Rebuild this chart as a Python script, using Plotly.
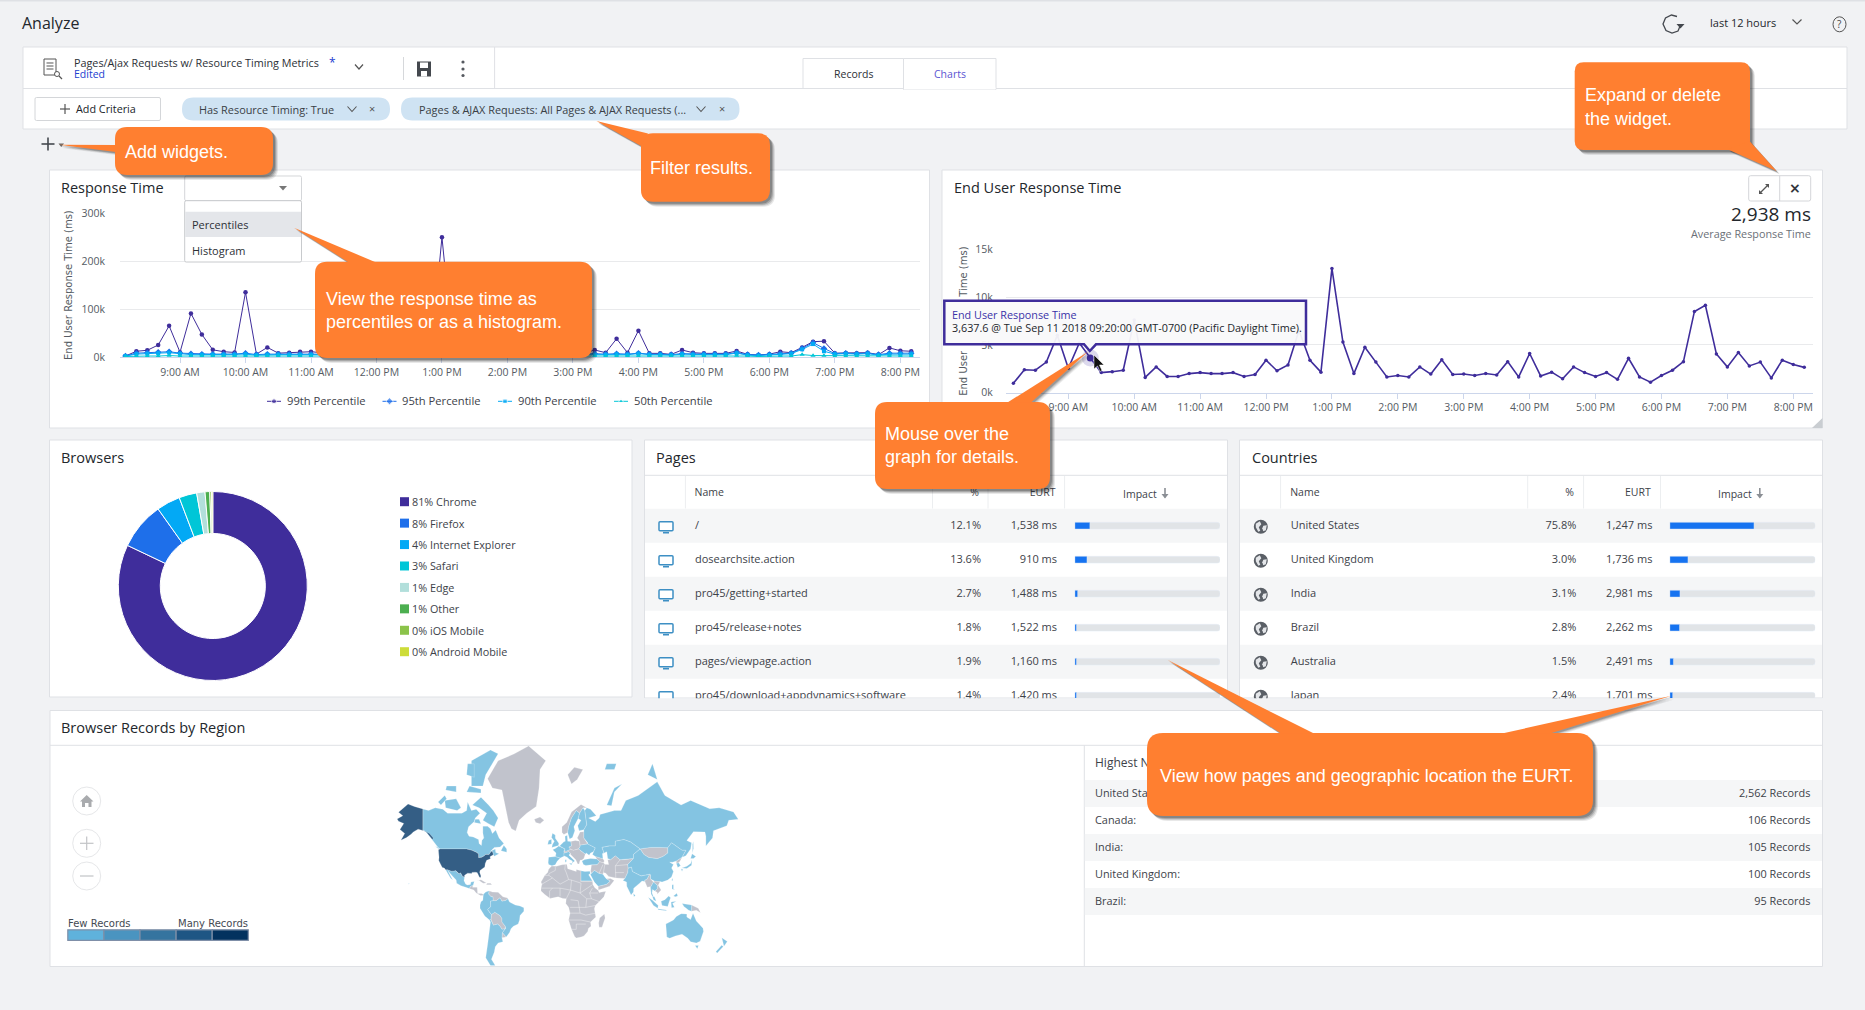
import math
import numpy as np
import pandas as pd
import plotly.graph_objects as go

W, H = 1865, 1010

# ------------------------------------------------------------------ data
TIMES = [t.strftime("%Y-%m-%d %H:%M:%S") for t in pd.date_range("2018-09-11 08:10", "2018-09-11 20:10", freq="10min")]
P99 = [2,12,14,25,65,10,91,47,15,11,9.5,135,6,20,8,9,11,11,
       9,8,10,8,9,14,9,10,18,12,9,250,20,9,16,11,8,8,7,10,8,12,8,8,8,
       14.6,9,38,9,55,7.6,7.6,5.5,14.6,9,7.6,7.6,7.6,12.5,5.5,4,6,11,9,20,32,33,8,8.5,8,9,5,19,13,12]
P95 = [2,8,9,10,11,8,7,6,6,6,6,8,5,6,6,6,6,6,
       6,5,6,5,6,8,6,6,9,7,6,15,7,6,7,6,6,5,6,6,6,7,6,6,6,
       7,6,7,6,8,6,6,5,7,6,6,6,6,9,5,4,5,7,8,18,30,18,7,8,7,8,5,8,8,8]
P90 = [2,6,7,8,9,7,5,5,5,5,5,6,4,5,5,5,5,5,
       5,4,5,4,5,6,5,5,7,5,5,10,6,5,6,5,5,4,5,5,5,6,5,5,5,
       5,5,6,5,7,5,5,4,6,5,5,5,5,8,4,3,4,5,7,16,27,12,6,7,6,7,4,6,6,6]
P50 = [1,2,2,2,3,2,2,2,2,2,2,2,2,2,2,2,2,2,
       2,2,2,2,2,2,2,2,2,2,2,3,2,2,2,2,2,2,2,2,2,2,2,2,2,
       2,2,2,2,2,2,2,2,2,2,2,2,2,3,2,1,2,2,2,5,3,3,2,2,2,2,2,2,2,2]
PCT_NAMES = ["99th Percentile", "95th Percentile", "90th Percentile", "50th Percentile"]
EURT = [0.98,2.4,2.35,3.2,6.0,2.55,5.2,3.6376,2.1,2.2,2.35,7.6,1.6,2.7,1.7,1.7,2.0,2.1,2.0,2.0,
        2.1,1.7,1.9,3.4,2.3,2.9,6.5,3.4,2.15,13.0,5.3,2.0,4.75,3.2,1.65,1.8,1.65,2.7,1.95,3.45,
        1.9,1.95,1.8,2.0,1.85,3.25,1.65,4.1,1.75,2.15,1.45,2.7,2.1,1.7,2.1,1.4,3.6,1.65,1.1,1.8,
        2.35,3.25,8.5,9.15,4.05,2.7,4.2,2.8,3.2,1.55,3.4,2.95,2.65]

BROWSERS = ["Chrome", "Firefox", "Internet Explorer", "Safari", "Edge", "Other", "iOS Mobile", "Android Mobile"]
BROWSER_SHARE = [81, 8, 4, 3, 1.4, 0.8, 0.3, 0.2]
BROWSER_LABEL = ["81%", "8%", "4%", "3%", "1%", "1%", "0%", "0%"]

PAGE_NAMES = ["/", "dosearchsite.action", "pro45/getting+started", "pro45/release+notes", "pages/viewpage.action", "pro45/download+appdynamics+software"]
PAGE_PCT = ["12.1%", "13.6%", "2.7%", "1.8%", "1.9%", "1.4%"]
PAGE_EURT = ["1,538 ms", "910 ms", "1,488 ms", "1,522 ms", "1,160 ms", "1,420 ms"]
PAGE_IMPACT = [10.4, 8.4, 2.0, 1.2, 1.2, 1.2]
COUNTRY_NAMES = ["United States", "United Kingdom", "India", "Brazil", "Australia", "Japan"]
COUNTRY_PCT = ["75.8%", "3.0%", "3.1%", "2.8%", "1.5%", "2.4%"]
COUNTRY_EURT = ["1,247 ms", "1,736 ms", "2,981 ms", "2,262 ms", "2,491 ms", "1,701 ms"]
COUNTRY_IMPACT = [57.9, 12.5, 7.0, 6.7, 2.5, 2.0]
REGION_NAMES = ["United States:", "Canada:", "India:", "United Kingdom:", "Brazil:"]
REGION_RECORDS = ["2,562 Records", "106 Records", "105 Records", "100 Records", "95 Records"]

MAP_DARK = [
 [(-124.7,48.4),(-123,49),(-95.2,49),(-89.5,48),(-84.5,46.5),(-82.5,45.3),(-82.5,42.6),(-79,43),(-76.5,44),(-75,45),(-71.5,45),(-69.2,47.4),(-67.8,47),(-67,44.8),(-70.5,43.3),(-70,41.7),(-74,40.6),(-75.5,38),(-76,35),(-78,33.9),(-81,32),(-81.3,30),(-80,26.8),(-80.5,25.2),(-81.8,26),(-82.8,28),(-84,30),(-86,30.4),(-89.5,30.2),(-89.5,29.2),(-91,29.3),(-94,29.5),(-97.2,27.6),(-97.2,25.9),(-99.2,26.5),(-101.4,29.8),(-103,29),(-104.7,30),(-106.5,31.8),(-108.2,31.4),(-111,31.3),(-114.8,32.5),(-117.1,32.5),(-118.5,34),(-120.6,34.6),(-122.5,37.5),(-124.3,40.4),(-124,43)],
 [(-141,69.6),(-141,60.3),(-137,59),(-131,55),(-130,55.9),(-134,58.5),(-139,59.8),(-146,60.8),(-151,59.3),(-153,58.2),(-158,56.2),(-164,54.6),(-160,58.5),(-165,60.6),(-161,63.6),(-166.5,64.6),(-168,65.6),(-162,67),(-166.5,68.4),(-156.5,71.3),(-150,70.5)],
]
MAP_BLUE = [
 [(-141,69.6),(-135,69),(-128,70),(-120,69.5),(-115,68),(-108,68),(-100,68),(-95,69),(-94,72),(-90,69),(-85,69.5),(-81,68),(-86,66),(-87,64.5),(-93,62),(-94.5,59),(-92.5,57),(-88,56.5),(-82.5,55),(-82,52.5),(-79.5,51.3),(-79,54.5),(-77,56),(-78,58.7),(-78,62.3),(-73,62.2),(-70,61),(-68,58.5),(-64.5,60.3),(-61,56),(-56,52.5),(-60,50.2),(-66,50),(-70,47.3),(-65,49),(-64.5,46.5),(-61,45.5),(-66,43.7),(-67,44.8),(-67.8,47),(-69.2,47.4),(-71.5,45),(-75,45),(-76.5,44),(-79,43),(-82.5,42.6),(-82.5,45.3),(-84.5,46.5),(-89.5,48),(-95.2,49),(-123,49),(-125,50),(-130,54),(-131,55),(-137,59),(-141,60.3)],
 [(-87,64),(-80,63.5),(-82,65.5),(-86,65.5)],
 [(-62,66),(-66,62),(-72,63.5),(-78,65),(-74,68),(-82,70),(-89,71),(-80,73.5),(-72,71),(-67,69)],
 [(-117,70),(-105,69),(-101,70),(-106,73),(-118,72.5)],
 [(-125,72),(-118,74),(-116,73),(-122,71)],
 [(-90,76.5),(-78,76.5),(-75,79),(-62,82.5),(-70,83),(-90,81.5)],
 [(-95,75),(-80,74.7),(-80,75.7),(-92,76.5)],
 [(-95,79),(-87,78.5),(-87,81),(-94,81)],
 [(-117,75.5),(-106,75),(-106,76.5),(-116,76.5)],
 [(-59,47.7),(-53,46.7),(-53,49),(-56,51.5)],
 [(-128,50.7),(-123.5,48.4),(-125,50)],
 [(-117.1,32.5),(-114.8,32.5),(-111,31.3),(-108.2,31.4),(-106.5,31.8),(-104.7,30),(-103,29),(-101.4,29.8),(-99.2,26.5),(-97.2,25.9),(-97.8,22.3),(-96,19),(-94,18.2),(-91,18.7),(-90.5,21),(-87,21.5),(-88.2,18),(-91,16.8),(-92.2,14.6),(-96,15.8),(-101,17.5),(-105.5,20),(-106,23),(-109.5,26.5),(-112.8,30),(-114.7,31.6),(-112,27),(-109.5,23),(-112,25),(-115,29)],
 [(-77.5,8.7),(-75,11),(-71.5,12.4),(-72,9),(-69.5,6.2),(-67.5,6),(-67.2,2),(-70,1.5),(-69.8,-4.3),(-73,-7.3),(-71,-10),(-69,-12.5),(-69.5,-17.5),(-71,-18),(-76,-14),(-81,-6),(-81,-2.5),(-80,1),(-78,2.5),(-77.5,7)],
 [(-51.7,4),(-50,0.5),(-44,-2.5),(-39,-3.5),(-35,-5.5),(-35,-9),(-39,-13.5),(-39.5,-18),(-41,-22),(-46,-24),(-48.5,-26.5),(-50,-30),(-53.5,-34),(-57.5,-30),(-54,-26),(-54.5,-24),(-58,-20),(-58,-16.5),(-60,-13.5),(-65.5,-10),(-69,-12.5),(-71,-10),(-73,-7.3),(-69.8,-4.3),(-70,1.5),(-67.2,2),(-64,2),(-60,5),(-58,1.5),(-54,2.3)],
 [(-71,-18),(-69.5,-17.5),(-69,-19),(-67,-23),(-62.5,-22),(-60,-24),(-58,-27),(-54.7,-26.5),(-57.5,-30),(-58,-34.5),(-57,-38),(-62,-39),(-65,-42),(-66,-46),(-69,-51),(-65,-55),(-70,-55),(-75,-50),(-73,-40),(-71.5,-30),(-70,-20)],
 [(25,31.6),(29,31),(34.2,31.3),(34.9,29.5),(33,28),(35.6,23.9),(37,22),(25,22)],
 [(-9,43),(-1.8,43.4),(3.2,42.3),(0,39.7),(-2,36.8),(-5.5,36),(-9,37),(-9.5,38.8)],
 [(-1.8,43.4),(3.2,42.3),(7.5,43.8),(7,47.5),(8.2,49),(4,50.5),(1.6,50.9),(-1.5,49.5),(-4.7,48.4),(-1.2,46)],
 [(-5.7,50),(1.4,51.2),(1.7,52.8),(-2,55.8),(-2,57.6),(-5,58.6),(-6,56.3),(-3,54),(-5,52)],
 [(-10,52),(-6,52.2),(-6,55.2),(-9,54.5)],
 [(2.5,51),(4,52),(7,53.6),(8.5,54),(8.2,57),(10.5,57.5),(11,54),(14.2,53.9),(15,51),(12.2,50.3),(13.8,48.7),(10,47.5),(7.5,47.6),(8.2,49),(4,50.5)],
 [(7,44),(7,45.9),(12,47),(13.7,46),(12.3,44.5),(16,41.8),(18.5,40),(16.6,38.9),(15.7,38),(16,40),(13,41.2),(10.5,43)],
 [(12.5,38),(15.5,38.2),(15,36.7)],
 [(8.3,41),(9.7,41),(9.5,39.1),(8.5,39)],
 [(24,50.5),(24,51.5),(32,52.3),(40,49.7),(38,47),(35,46),(33.5,44.5),(30.5,46),(29.5,45.3),(24,48),(22.5,49)],
 [(11,59),(13,55.4),(16,56.2),(18.5,60),(17.5,62),(22,65.8),(23.5,68),(20,69),(15,66),(12,62)],
 [(23,60),(28,60.5),(31,63),(29,69),(27,70),(23.5,68),(22,65.8),(25,65),(21.5,62.5)],
 [(52,71),(57,70.7),(60,75),(68,77),(60,76)],
 [(95,79),(105,78),(100,81)],
 [(50,80),(60,80),(62,81),(52,81)],
 [(28,59.5),(28,56),(32,53),(32,52.3),(40,49.7),(38,47),(37,45),(40,43.5),(48,41.8),(47.5,45.5),(49,46.5),(47,50),(55,51),(61,51),(61,54),(70,55),(77,53.5),(87,49),(98,50),(107,50),(114,50),(116,49.8),(120,53),(127,50),(131,48),(135,48),(131,43),(135,44),(140,49),(141,53),(136,54.5),(143,59.5),(155,59.3),(156,57),(156,51),(163,56),(164,60),(178,62.5),(180,65),(190,65.5),(185,68.5),(170,70),(160,69.7),(140,72.5),(130,71),(113,74),(105,77.5),(85,74),(72,72.5),(67,69),(60,69),(45,67.5),(44,66),(40,64.5),(33,66),(41,67),(35,69.5),(31,70),(29,69),(31,63),(28,60.5)],
 [(47.5,45.5),(49,46.5),(47,50),(55,51),(61,51),(61,54),(70,55),(77,53.5),(87,49),(80,45),(80,42),(70,41),(66,41),(61,44),(56,41),(53,42),(52,47)],
 [(34.8,28.2),(36,29.5),(39,32),(44,29.3),(48,28.5),(50,26),(51.5,24.3),(55.5,22),(52,19),(45,17.3),(43,17),(39,21),(36.5,26)],
 [(26,40),(29,41.1),(35,42),(41.5,41.5),(44.5,39.5),(42,37),(36,36.8),(30,36.3),(27.5,37)],
 [(74,30),(74.5,34),(78,35),(79,31),(88,27),(97,28.5),(94,23.5),(91.8,23),(92,21.5),(89,22),(86.5,20),(80.3,15),(80,11),(77.5,8),(73,17),(72.8,21),(69,22.5),(71,24.5)],
 [(74,37),(80,42),(80,45),(87,49),(91,45),(96,42.8),(105,41.8),(111,43.5),(116,46),(116,49.8),(120,53),(127,50),(131,48),(135,48),(131,43),(125,40),(121,39),(118,39),(122,37),(120,34),(122,31),(120,26),(116,23),(110,21),(108,21.5),(102,22),(98,24),(98,28),(97,28.5),(88,27),(79,31),(78,35),(74.5,34)],
 [(125,38),(127.5,38.5),(129.5,36),(126.5,34.5)],
 [(130.8,34),(136,35.6),(140,38),(141.5,41),(141,36.5),(136,33.7)],
 [(140,42),(141.5,45.5),(145.5,43.5),(143,42)],
 [(130,33.5),(131.8,33),(131,31)],
 [(142,46),(143,49.5),(142.8,54),(142,52)],
 [(98,16),(101,21),(105,18),(105,14.5),(102.5,12),(100,13.5),(99.5,10),(101,6.5),(100,6.5),(98.5,9)],
 [(100,6.5),(102,6.2),(104,1.5),(101,3)],
 [(95.5,5.5),(100,2.5),(106,-3),(105.5,-5.8),(101,-3)],
 [(105.5,-6.5),(114.5,-7.7),(114.5,-8.5),(106,-7.5)],
 [(109,1.5),(113,3),(117,7),(119,5),(117.5,1),(116,-4),(110,-3)],
 [(119.5,0.5),(125,1.5),(121,-1),(123,-5),(120,-5.5)],
 [(120.5,18.5),(122,18.3),(122,14),(124,13),(120.5,14)],
 [(122,7),(125.5,9.7),(126.5,7),(124,6)],
 [(120,23),(121.5,25),(121,22)],
 [(131,-1),(141,-2.6),(141,-9),(138,-8),(133,-4)],
 [(80,9.5),(82,7.5),(80.5,6)],
 [(114,-22),(122,-18),(125,-14.5),(130,-11.5),(136,-12),(136,-15),(140,-17.5),(142.5,-11),(146,-19),(153,-26),(153.5,-29),(150,-37.5),(146,-39),(140,-38),(137,-35),(131,-31.5),(124,-33),(118,-35),(115,-34),(114,-27)],
 [(144.7,-41),(148.3,-41),(147,-43.5)],
 [(172.7,-34.5),(178.5,-37.7),(175,-41.5),(174,-39)],
 [(172.5,-40.7),(174.3,-41.7),(168,-46.7),(166.5,-45.8)],
 [(-156,20),(-155,19.5),(-155.8,19)],
]
MAP_GRAY = [
 [(-73,78.2),(-68,76),(-58,75.5),(-54,70),(-51,64),(-48,61),(-43.5,59.9),(-40,65),(-32,68),(-22,70.5),(-19,76),(-18,80),(-12,81.5),(-30,83.5),(-45,82.5),(-62,81.5)],
 [(-92.2,14.6),(-91,16.8),(-88.2,18),(-88.9,15.9),(-84,15.8),(-83.3,12),(-83.5,9.5),(-79.5,9.5),(-77.5,8.7),(-78,7.5),(-80.5,7.3),(-85,10),(-87.5,13)],
 [(-85,22),(-80,23.2),(-74.2,20.2),(-77.7,19.9),(-82,22.5)],
 [(-74.4,18.5),(-68.4,18.5),(-70,19.9),(-73.5,19.9)],
 [(-71.5,12.4),(-68,11),(-62,10.7),(-60,8.5),(-57,6),(-52,4.8),(-51.7,4),(-54,2.3),(-58,1.5),(-60,5),(-64,2),(-67.2,2),(-67.5,6),(-69.5,6.2),(-72,9)],
 [(-69,-12.5),(-65.5,-10),(-60,-13.5),(-58,-16.5),(-58,-20),(-54.5,-24),(-54.7,-26.5),(-58,-27),(-60,-24),(-62.5,-22),(-67,-23),(-69,-19),(-69.5,-17.5)],
 [(-57.5,-30),(-53.5,-34),(-58,-34.5)],
 [(-5.9,35.8),(-1,35.5),(5,36.9),(10,37.3),(11,33.5),(15,32.3),(20,31),(20,32.8),(25,31.6),(25,22),(37,22),(37.5,18.5),(39.5,15.5),(43.2,12.5),(44,10.5),(51,11.8),(49,6),(44,1),(40,-3),(39,-6.5),(40.5,-15),(35,-20),(35.5,-24),(32.8,-26),(32,-29),(28,-33),(25,-34),(20,-34.8),(18.3,-33.5),(15,-27),(12,-18),(13.5,-11),(12,-5),(9,-1),(9.5,4),(6,4.3),(1,6),(-4,5),(-7.5,4.4),(-13,8.5),(-17,12),(-17,15),(-16,19),(-17,21),(-13,27.5),(-10,30),(-9,33)],
 [(49.5,-12),(50.3,-16),(47,-25),(44,-25),(43.5,-21),(44.5,-16)],
 [(14.2,53.9),(19,54.5),(23.5,54),(24,50.5),(22.5,49),(17,48),(13.8,48.7),(12.2,50.3),(15,51)],
 [(7.5,47.6),(10,47.5),(13.8,48.7),(17,48),(22.5,49),(24,48),(29.5,45.3),(28,42),(26,40.8),(24,40.5),(23,37.5),(21.5,37.5),(19.5,41),(14,45),(13.7,46),(12,47),(7,45.9)],
 [(23.5,54),(21,56),(24,59.3),(28,59.5),(28,56),(32,53),(32,52.3),(24,51.5)],
 [(5,59),(7,58),(11,59),(12,62),(15,66),(20,69),(23.5,68),(27,70),(31,70),(25,71.2),(15,68.5),(10,64),(5,62)],
 [(-24,65.5),(-18,66.4),(-13.7,65),(-18,63.5),(-22.5,64)],
 [(11,79),(15,77),(21,78),(27,80),(18,80.4)],
 [(36,36.8),(42,37),(44.5,39.5),(48.5,38.5),(50,37.3),(54,37),(53,41),(56,41),(61,44),(66,41),(70,41),(80,42),(74,37),(74.5,34),(74,30),(71,24.5),(61.5,25),(57,26),(54,26.5),(51,29.5),(48.5,30),(48,28.5),(44,29.3),(39,32),(36,29.5),(35,31)],
 [(43,17),(45,17.3),(52,19),(55.5,22),(51.5,24.3),(56,24.5),(59.8,22.5),(55,17),(45,13),(43.2,13)],
 [(40,43.5),(48,41.8),(49.5,40),(48.5,38.5),(44.5,39.5),(41.5,41.5)],
 [(87,49),(98,50),(107,50),(114,50),(116,49.8),(116,46),(111,43.5),(105,41.8),(96,42.8),(91,45)],
 [(125,40),(131,43),(129,40),(127.5,38.5),(125,38)],
 [(92,21.5),(91.8,23),(94,23.5),(97,28.5),(98,28),(98,24),(101,21),(98,16),(98.5,11),(97.5,16.5),(94.5,16)],
 [(101,21),(102,22),(108,21.5),(106,18),(109,13),(107,10.5),(105,8.7),(105,10.5),(102.5,12),(105,14.5),(105,18)],
 [(141,-2.6),(148,-6),(150.5,-10.5),(146,-8),(141,-9)],
]
MAP_BORDERS = [
 [(-8.7,27.5),(-8.7,29),(-2,32),(-2,35)],[(8.5,36.9),(8,33),(9.5,30),(12,23.5),(15,23),(25,20)],
 [(-13,27.5),(-8.7,27.5),(-5,25),(3,19),(12,23.5)],[(-16,19),(-5,25)],[(-17,15),(-5,15),(3,15),(14,13)],
 [(14,13),(15,23)],[(14,13),(24,10),(25,20)],[(24,10),(37,18.5)],[(24,22),(37,22)],[(-8,4.5),(-8,12),(-5,15)],
 [(3,15),(3,6.5)],[(9.5,4),(14,13)],[(24,10),(31,4),(36,4),(44,1)],[(36,4),(34,10),(37,15)],[(34,10),(43,10)],
 [(13.5,-5),(30,-5),(40,-3)],[(13,-11),(24,-11),(30,-13),(40.5,-11)],[(12,-18),(25,-18),(35,-20)],
 [(15,-27),(20,-27),(20,-22),(30,-22)],[(30,-5),(31,4)],[(24,-11),(22,2),(14,3)],[(44,29.3),(48,37)],[(61.5,25),(61,36),(66,41)],
 [(50,37.3),(48.5,30)],[(61,36),(74,37)],[(61,30),(70,30)],
]

# ------------------------------------------------------------------ helpers
BG = "#f1f2f4"; EDGE = "#dfe1e5"; INK = "#333840"; ORANGE = "#ff7f30"; OS = "Open Sans"
PURPLE = "#3f2d9b"; BLUE = "#1e6fea"; SKY = "#03a9f5"; CYAN = "#00c6d7"
fx = lambda x: x / W
fy = lambda y: 1 - y / H
shapes, notes = [], []

def rect(x0, y0, x1, y1, fill=None, line=None, lw=1, layer="below"):
    shapes.append(dict(type="rect", xref="paper", yref="paper", x0=fx(x0), x1=fx(x1), y0=fy(y0), y1=fy(y1),
                       fillcolor=fill or "rgba(0,0,0,0)", line=dict(color=line or "rgba(0,0,0,0)", width=lw if line else 0), layer=layer))

def circle(cx, cy, r, fill=None, line=None, lw=1, layer="below", ry=None):
    ry = ry or r
    shapes.append(dict(type="circle", xref="paper", yref="paper", x0=fx(cx-r), x1=fx(cx+r), y0=fy(cy-ry), y1=fy(cy+ry),
                       fillcolor=fill or "rgba(0,0,0,0)", line=dict(color=line or "rgba(0,0,0,0)", width=lw if line else 0), layer=layer))

def poly(pts, fill=None, line=None, lw=1, layer="below", closed=True):
    d = "M" + " L".join(f"{fx(x):.6f},{fy(y):.6f}" for x, y in pts) + (" Z" if closed else "")
    shapes.append(dict(type="path", xref="paper", yref="paper", path=d, fillcolor=fill or "rgba(0,0,0,0)",
                       line=dict(color=line or "rgba(0,0,0,0)", width=lw if line else 0), layer=layer))

def stroke(pts, color="#555", lw=1, layer="below"):
    poly(pts, None, color, lw, layer, False)

def rrect_path(x0, y0, x1, y1, r):
    P = lambda x, y: f"{fx(x):.6f},{fy(y):.6f}"
    return (f"M{P(x0+r,y0)} L{P(x1-r,y0)} Q{P(x1,y0)} {P(x1,y0+r)} L{P(x1,y1-r)} Q{P(x1,y1)} {P(x1-r,y1)} "
            f"L{P(x0+r,y1)} Q{P(x0,y1)} {P(x0,y1-r)} L{P(x0,y0+r)} Q{P(x0,y0)} {P(x0+r,y0)} Z")

def rrect(x0, y0, x1, y1, r, fill, line=None, lw=1, layer="below"):
    shapes.append(dict(type="path", xref="paper", yref="paper", path=rrect_path(x0, y0, x1, y1, r), fillcolor=fill,
                       line=dict(color=line or "rgba(0,0,0,0)", width=lw if line else 0), layer=layer))

def note(x, y, text, size=11, color=INK, anchor="left", family=OS, angle=0):
    notes.append(dict(xref="paper", yref="paper", x=fx(x), y=fy(y), text=text, showarrow=False, xanchor=anchor, yanchor="middle",
                      font=dict(size=size, color=color, family=family), textangle=angle, borderpad=0, borderwidth=0))

under = {}
def under_text(x, y, text, size=11, color=INK, anchor="left"):
    under.setdefault((size, color, anchor), []).append((x, y, text))

def callout(x0, y0, x1, y1, pointers, lines, r=12):
    for off, alpha in ((5, .10), (4, .14), (3, .2), (2, .25)):
        rrect(x0+off, y0+off, x1+off, y1+off, r, f"rgba(30,30,30,{alpha})", layer="above")
        for p in pointers:
            poly([(a+off*.7, b+off*.7) for a, b in p], f"rgba(30,30,30,{alpha*.8})", layer="above")
    rrect(x0, y0, x1, y1, r, ORANGE, layer="above")
    for p in pointers:
        poly(p, ORANGE, layer="above")
    for tx, ty, t in lines:
        note(tx, ty, t, 18, "white", family="Liberation Sans")

# ------------------------------------------------------------------ page chrome
rect(0, 0, W, 1.5, EDGE)
note(22, 23, "Analyze", 16, "#23272c")
rect(23, 47, 1847, 129, "white", EDGE)
stroke([(23, 88.5), (1847, 88.5)], EDGE)
stroke([(494.6, 47), (494.6, 88.5)], EDGE)
rect(44, 59, 56, 75, None, "#555", 1)
for yy in (63, 66, 69):
    stroke([(46.5, yy), (53.5, yy)], "#555", 1)
circle(57, 74, 2.5, "white", "#555", 1)
stroke([(59, 76), (62, 79)], "#555", 1.2)
note(74, 62, "Pages/Ajax Requests w/ Resource Timing Metrics", 10.8, "#2c3036")
note(329, 62, "*", 12, "#2240d0")
note(74, 74.5, "Edited", 10.5, "#2240d0")
stroke([(355, 64.5), (359, 69), (363, 64.5)], "#555", 1.2)
stroke([(403.5, 57), (403.5, 80)], "#d6d8db")
rect(417, 61.5, 431, 76.5, "#44484e")
rect(420, 62.5, 428, 68, "white")
rect(421, 71, 427, 76.5, "white")
for yy in (62, 69, 75.5):
    circle(463, yy, 1.6, "#55595f")
rect(803, 58.5, 903.5, 88.5, "white", EDGE)
rect(903.5, 58.5, 996, 89.5, "white", EDGE)
stroke([(904, 88.5), (995.5, 88.5)], "white", 2)
note(853, 74, "Records", 10.5, "#2c3036", "center")
note(950, 74, "Charts", 10.5, "#5a55d2", "center")
rrect(35, 97.5, 160.5, 120.5, 1.5, "white", "#d4d6d9")
stroke([(65, 104), (65, 114)], "#555", 1.2)
stroke([(60, 109), (70, 109)], "#555", 1.2)
note(76, 109, "Add Criteria", 10.8, "#20242a")
rrect(182, 97.5, 390, 120.5, 11.5, "#cfe3f3")
note(199, 110, "Has Resource Timing: True", 10.9, "#3a3f46")
stroke([(347.5, 106.5), (352, 111.5), (356.5, 106.5)], "#555", 1.1)
note(372, 109, "×", 11, "#555", "center")
rrect(401, 97.5, 739.5, 120.5, 11.5, "#cfe3f3")
note(418.5, 110, "Pages & AJAX Requests: All Pages & AJAX Requests (...", 10.9, "#3a3f46")
stroke([(696.5, 106.5), (701, 111.5), (705.5, 106.5)], "#555", 1.1)
note(722, 109, "×", 11, "#555", "center")
stroke([(41.5, 144), (54.5, 144)], "#44484e", 1.6)
stroke([(48, 137.5), (48, 150.5)], "#44484e", 1.6)
poly([(58.5, 143.5), (64, 143.5), (61.2, 147)], "#666")
# top right
stroke([(1677, 16.5), (1671.5, 15), (1665.5, 18), (1663, 24), (1666, 30.5), (1672, 33), (1678, 31), (1680.5, 25)], "#44484e", 1.3)
poly([(1676.5, 24), (1684.5, 24), (1680.5, 28.5)], "#44484e")
note(1710, 22, "last 12 hours", 11, "#23272c")
stroke([(1792.5, 19.5), (1797, 24), (1801.5, 19.5)], "#555", 1.2)
circle(1839.5, 24.3, 6.5, None, "#555", 1, ry=7.5)
note(1839.5, 24.3, "?", 10, "#444", "center")

# cards
rect(49.5, 170, 929.5, 428, "white", EDGE)
rect(942, 170, 1822.5, 428, "white", EDGE)
rect(49.5, 440, 632, 697, "white", EDGE)
rect(644.5, 440, 1227.5, 698, "white", EDGE)
rect(1239.5, 440, 1822.5, 698, "white", EDGE)
rect(50, 710.5, 1822.5, 966.5, "white", EDGE)
stroke([(644.5, 475.3), (1227.5, 475.3)], EDGE)
stroke([(1239.5, 475.3), (1822.5, 475.3)], EDGE)
stroke([(50, 745.3), (1822.5, 745.3)], EDGE)
stroke([(1084.3, 745.3), (1084.3, 966.5)], EDGE)
poly([(1822.5, 418), (1822.5, 428), (1812, 428)], "#c9cdd1")

note(61, 188, "Response Time", 14.5, "#23272c")
note(954, 188, "End User Response Time", 14.5, "#23272c")
note(61, 458, "Browsers", 14.5, "#23272c")
note(656, 458, "Pages", 14.5, "#23272c")
note(1251.5, 458, "Countries", 14.5, "#23272c")
note(61.3, 727.7, "Browser Records by Region", 14.5, "#23272c")

# right chart buttons
rrect(1748.7, 175.7, 1810.7, 201, 2, "white", "#d4d6d9")
stroke([(1779.7, 175.7), (1779.7, 201)], "#d4d6d9")
stroke([(1760, 193), (1768, 185)], "#555", 1.2)
poly([(1765, 184), (1769, 184), (1769, 188)], "#555")
poly([(1759, 190), (1759, 194), (1763, 194)], "#555")
note(1795, 188.5, "<b>×</b>", 14, "#33373d", "center", "DejaVu Sans")
note(1810.7, 214, "2,938 ms", 19, "#23272c", "right")
note(1810.7, 233.5, "Average Response Time", 10.8, "#6b7077", "right")

# pie legend
for i, (c, nm, lb) in enumerate(zip(["#3f2d9b", "#1e6fea", "#03a9f5", "#00c6d7", "#b2dfdb", "#4caf50", "#8bc34a", "#cddc39"], BROWSERS, BROWSER_LABEL)):
    yy = 501.7 + i * 21.43
    rect(400, yy - 4.5, 409, yy + 4.5, c)
    note(412.4, yy, f"{lb} {nm}", 10.8, "#3d4249")

# tables
def table(x_left, x_right, dividers, name_x, pct_r, eurt_r, hpct_r, heurt_r, imp_x, arrow_x, icon_x, names, pcts, eurts, icon):
    for i in (0, 2, 4):
        y0 = 508.7 + i * 34
        rect(x_left + .5, y0, x_right - .5, y0 + 34, "#f5f6f7")
    for d in dividers:
        stroke([(d, 476), (d, 508.5)], "#eceef0")
    under_text(name_x - .5, 493.5, "Name", 10.5, "#3d4249")
    under_text(hpct_r, 493.5, "%", 10.5, "#3d4249", "right")
    under_text(heurt_r, 493.5, "EURT", 10.5, "#3d4249", "right")
    note(imp_x, 493.5, "Impact", 10.5, "#3d4249")
    stroke([(arrow_x, 488), (arrow_x, 497.5)], "#8b8f95", 1.6)
    poly([(arrow_x - 3.5, 494), (arrow_x + 3.5, 494), (arrow_x, 498.5)], "#8b8f95")
    for i, (n, p, e) in enumerate(zip(names, pcts, eurts)):
        cy = 525.7 + i * 34
        under_text(name_x, cy + .8, n, 11, "#3d4249")
        under_text(pct_r, cy + .8, p, 11, "#3d4249", "right")
        under_text(eurt_r, cy + .8, e, 11, "#3d4249", "right")
        icon(icon_x, cy + 1)

def monitor(cx, cy):
    rrect(cx - 7, cy - 5, cx + 7, cy + 4, 1, "white", "#3d8fc4", 1.5)
    stroke([(cx - 3, cy + 6), (cx + 3, cy + 6)], "#3d8fc4", 1.6)

def globe(cx, cy):
    circle(cx, cy, 7, "#5a5f66")
    poly([(cx - 5, cy - 3), (cx - 1, cy - 5.5), (cx + .5, cy - 2.5), (cx - 2, cy + .5), (cx - .5, cy + 4), (cx - 2.5, cy + 5), (cx - 5, cy + .5)], "#e4e6e9")
    poly([(cx + 2.5, cy - 1), (cx + 6, cy - 1.5), (cx + 5, cy + 3.5), (cx + 2.5, cy + 4.5), (cx + 1.5, cy + 1.5)], "#e4e6e9")

table(644.5, 1227.5, [685.4, 932.5, 988, 1064.6], 695, 981, 1057, 979, 1055.5, 1122.7, 1165, 666, PAGE_NAMES, PAGE_PCT, PAGE_EURT, monitor)
table(1239.5, 1822.5, [1280.6, 1527.7, 1583.6, 1660.5], 1290.7, 1576.3, 1652.4, 1573.9, 1650.8, 1718, 1759.8, 1260.8, COUNTRY_NAMES, COUNTRY_PCT, COUNTRY_EURT, globe)

# map side panel
under_text(1095, 763.8, "Highest Number of Records", 12, "#3d4249")
for i, (n, r_) in enumerate(zip(REGION_NAMES, REGION_RECORDS)):
    y0 = 780 + i * 27
    if i % 2 == 0:
        rect(1084.8, y0, 1822, y0 + 27, "#f5f6f7")
    under_text(1095, y0 + 13.8, n, 10.9, "#3d4249")
    under_text(1810.4, y0 + 13.8, r_, 10.9, "#3d4249", "right")

# map controls and legend
for cy in (801, 843.3, 876):
    circle(86.7, cy, 14, "white", "#e6e7e9")
poly([(86.7, 795), (93.5, 801.5), (91.5, 801.5), (91.5, 807), (88.5, 807), (88.5, 803), (85, 803), (85, 807), (82, 807), (82, 801.5), (80, 801.5)], "#a9abae")
stroke([(80, 843.3), (93.5, 843.3)], "#c2c4c7", 1.2)
stroke([(86.7, 836.5), (86.7, 850)], "#c2c4c7", 1.2)
stroke([(80, 876), (93.5, 876)], "#c2c4c7", 1.2)
note(68.3, 923.3, "Few Records", 10, "#444a52", family="DejaVu Sans")
note(247.7, 923.3, "Many Records", 10, "#444a52", "right", "DejaVu Sans")
for i, c in enumerate(["#5fb2dc", "#4a94c0", "#35749f", "#1e5684", "#03325f"]):
    rect(67.8 + i * 36.1, 929.8, 67.8 + (i + 1) * 36.1, 940.3, c, "#7f8fa8", 1.2)

# above-trace elements: dropdown, card clip, tooltip, cursor, callouts
rrect(184.7, 176, 301.5, 200.7, 1.5, "white", "#d4d6d9", 1, "above")
rrect(184.7, 200.7, 301.5, 262, 1.5, "white", "#c8cacd", 1, "above")
rect(185.2, 211.7, 301, 237, "#e4e6ea", layer="above")
poly([(279, 186), (287, 186), (283, 190.5)], "#777", layer="above")
note(192.4, 225, "Percentiles", 11, "#2c3036")
note(192.4, 250, "Histogram", 11, "#2c3036")

rect(640, 698.2, 1232, 709.8, BG, layer="above")
rect(1235, 698.2, 1826, 709.8, BG, layer="above")

poly([(944.3, 300.7), (1306, 300.7), (1306, 344.3), (1096, 344.3), (1089.8, 351), (1084, 344.3), (944.3, 344.3)],
     "rgba(249,249,250,0.95)", PURPLE, 2.5, "above")
note(951.5, 314, "End User Response Time", 10.8, "#3a32a8")
note(951.5, 327, "3,637.6 @ Tue Sep 11 2018 09:20:00 GMT-0700 (Pacific Daylight Time).", 10.8, "#23272c")
poly([(1094, 355), (1094, 369), (1097.5, 366), (1100, 371.5), (1102, 370.5), (1099.5, 365), (1104, 365)], "#111", "#fff", .5, "above")

callout(115, 127, 273, 175, [[(59, 144.7), (116, 145), (116, 152)]], [(125, 151.5, "Add widgets.")])
callout(641, 133.3, 770, 201.7, [[(596.5, 121), (648, 133.5), (641.2, 146)]], [(650, 168, "Filter results.")])
callout(315, 261.7, 592, 358, [[(294, 227.7), (348, 262), (375, 262)]],
        [(326, 299, "View the response time as"), (326, 322, "percentiles or as a histogram.")])
callout(875, 402, 1050, 489, [[(1088, 351.7), (1007.5, 402.5), (1031, 402.5)]],
        [(884.6, 434.5, "Mouse over the"), (884.6, 457.5, "graph for details.")])
callout(1574.7, 62.3, 1750, 150, [[(1776.5, 171), (1728, 149.5), (1749.5, 141)]],
        [(1584.7, 95.3, "Expand or delete"), (1584.7, 118.7, "the widget.")], 9)
callout(1147, 733, 1593, 816, [[(1167.8, 660), (1281, 733.5), (1314, 733.5)], [(1671.5, 695.7), (1502, 733.5), (1550, 733.5)]],
        [(1160, 776, "View how pages and geographic location the EURT.")], 16)

# right chart y title, broken by the tooltip that covers it
note(962.8, 272, "Time (ms)", 10, "#555b63", "center", "DejaVu Sans", -90)
note(962.8, 373, "End User", 10, "#555b63", "center", "DejaVu Sans", -90)

# ------------------------------------------------------------------ traces
fig = go.Figure()
thou = lambda vals: [v * 1000 for v in vals]
for vals, nm, col, sym, sz in [(P99, PCT_NAMES[0], PURPLE, "circle", 4.5), (P95, PCT_NAMES[1], BLUE, "diamond", 5),
                               (P90, PCT_NAMES[2], SKY, "square", 4), (P50, PCT_NAMES[3], CYAN, "triangle-up", 4.5)]:
    fig.add_trace(go.Scatter(x=TIMES, y=thou(vals), name=nm, mode="lines+markers", line=dict(color=col, width=1),
                             marker=dict(color=col, size=sz, symbol=sym), xaxis="x", yaxis="y", showlegend=False))
fig.add_trace(go.Scatter(x=TIMES, y=thou(EURT), name="End User Response Time", mode="lines+markers", line=dict(color=PURPLE, width=1.6),
                         marker=dict(color=PURPLE, size=3.5), xaxis="x2", yaxis="y2", showlegend=False))
fig.add_trace(go.Scatter(x=[TIMES[7]], y=[EURT[7] * 1000], mode="markers", marker=dict(color="rgba(63,45,155,.18)", size=17),
                         xaxis="x2", yaxis="y2", showlegend=False, hoverinfo="skip"))
fig.add_trace(go.Scatter(x=[TIMES[7]], y=[EURT[7] * 1000], mode="markers", marker=dict(color=PURPLE, size=7),
                         xaxis="x2", yaxis="y2", showlegend=False, hoverinfo="skip"))
fig.add_trace(go.Pie(labels=BROWSERS, values=BROWSER_SHARE, hole=.556, sort=False, direction="clockwise", rotation=0, textinfo="none",
                     marker=dict(colors=["#3f2d9b", "#1e6fea", "#03a9f5", "#00c6d7", "#b2dfdb", "#4caf50", "#8bc34a", "#cddc39"], line=dict(color="white", width=1)),
                     domain=dict(x=[fx(118.3), fx(307.3)], y=[fy(680.5), fy(491.5)]), showlegend=False))

for names, vals, xa, ya in [(PAGE_NAMES, PAGE_IMPACT, "x3", "y3"), (COUNTRY_NAMES, COUNTRY_IMPACT, "x4", "y4")]:
    fig.add_trace(go.Bar(y=names, x=[100] * 6, orientation="h", marker=dict(color="#e1e4e7"), width=.2, xaxis=xa, yaxis=ya, showlegend=False, hoverinfo="skip"))
    fig.add_trace(go.Bar(y=names, x=vals, orientation="h", marker=dict(color="#1673f0"), width=.2, xaxis=xa, yaxis=ya, showlegend=False))

def merc(lat):
    return np.log(np.tan(np.pi / 4 + np.radians(lat) / 2))

# one trace per polygon: a shared trace would punch even-odd holes where outlines touch
def map_traces(polys, color):
    for p in polys:
        closed = list(p) + [p[0]]
        fig.add_trace(go.Scatter(x=[c[0] for c in closed], y=[float(merc(c[1])) for c in closed], mode="lines", fill="toself",
                                 fillcolor=color, line=dict(color="rgba(255,255,255,.55)", width=.4),
                                 xaxis="x5", yaxis="y5", showlegend=False, hoverinfo="skip"))

map_traces(MAP_GRAY, "#c1c3cc")
map_traces(MAP_BLUE, "#84c4e2")
map_traces(MAP_DARK, "#345e85")
bx, by = [], []
for ln in MAP_BORDERS:
    for lon, lat in ln:
        bx.append(lon); by.append(float(merc(lat)))
    bx.append(None); by.append(None)
fig.add_trace(go.Scatter(x=bx, y=by, mode="lines", line=dict(color="rgba(255,255,255,.75)", width=.5), xaxis="x5", yaxis="y5", showlegend=False, hoverinfo="skip"))

# text that the callouts must be able to hide, on a page-sized overlay
for (size, color, anchor), items in under.items():
    pos = {"left": "middle right", "right": "middle left", "center": "middle center"}[anchor]
    fig.add_trace(go.Scatter(x=[i[0] for i in items], y=[i[1] for i in items], text=[i[2] for i in items], mode="text", textposition=pos,
                             textfont=dict(size=size, color=color, family=OS), xaxis="x6", yaxis="y6", showlegend=False, hoverinfo="skip"))

# response-time legend glyphs
for sx, nm, col, sym, sz in [(267, PCT_NAMES[0], PURPLE, "circle", 5), (382.5, PCT_NAMES[1], BLUE, "diamond", 5.5),
                             (498, PCT_NAMES[2], SKY, "square", 4.5), (614, PCT_NAMES[3], CYAN, "triangle-up", 5)]:
    fig.add_trace(go.Scatter(x=[sx, sx + 7, sx + 14], y=[401.3] * 3, mode="lines+markers", line=dict(color=col, width=1),
                             marker=dict(color=col, size=[0, sz, 0], symbol=sym), xaxis="x6", yaxis="y6", showlegend=False, hoverinfo="skip"))
    note(sx + 19.6, 400.8, nm, 11.2, "#3d4249")

tick_font = dict(size=10.5, color="#555b63", family=OS)
def time_axis(x0, x1, rng, anchor):
    return dict(domain=[fx(x0), fx(x1)], anchor=anchor, type="date", range=rng, dtick=3600000, tick0="2018-09-11 09:00:00",
                tickformat="%-I:%M %p", showgrid=False, zeroline=False, showline=True, linecolor="#ccd6eb", ticks="outside",
                ticklen=5, tickcolor="#ccd6eb", tickfont=tick_font)
def value_axis(y0, y1, top, dtick, anchor, standoff, title=None):
    a = dict(domain=[fy(y1), fy(y0)], anchor=anchor, range=[0, top], showgrid=True, gridcolor="#e9eaec", gridwidth=1,
             zeroline=False, showline=False, ticks="", tickfont=tick_font, ticklabelstandoff=standoff,
             tickvals=[dtick * i for i in range(int(top / dtick) + 1)],
             ticktext=[f"{int(dtick * i / 1000)}k" for i in range(int(top / dtick) + 1)])
    if title:
        a["title"] = dict(text=title, font=dict(size=10, color="#555b63", family="DejaVu Sans"), standoff=6)
    return a
hidden = dict(visible=False, showgrid=False, zeroline=False, fixedrange=True)
def bar_x(x0, x1, anchor):
    return dict(hidden, domain=[fx(x0), fx(x1)], anchor=anchor, range=[0, 100])
def bar_y(anchor, cats):
    return dict(hidden, domain=[fy(698), fy(508.7)], anchor=anchor, type="category", categoryorder="array", categoryarray=cats, range=[5.067, -.5])

fig.update_layout(
    width=W, height=H, margin=dict(l=0, r=0, t=0, b=0, autoexpand=False), autosize=False,
    paper_bgcolor=BG, plot_bgcolor="rgba(0,0,0,0)", font=dict(family=OS, size=11, color=INK),
    barmode="overlay", barcornerradius=3, showlegend=False,
    xaxis=time_axis(120, 920, ["2018-09-11 08:05:00", "2018-09-11 20:18:00"], "y"),
    yaxis=value_axis(213.3, 357, 300000, 100000, "x", 14, "End User Response Time (ms)"),
    xaxis2=time_axis(1005.7, 1812.5, ["2018-09-11 08:03:00", "2018-09-11 20:17:30"], "y2"),
    yaxis2=value_axis(249.3, 392.7, 15000, 5000, "x2", 12),
    xaxis3=bar_x(1074.8, 1220, "y3"), yaxis3=bar_y("x3", PAGE_NAMES),
    xaxis4=bar_x(1669.8, 1815.3, "y4"), yaxis4=bar_y("x4", COUNTRY_NAMES),
    xaxis5=dict(hidden, domain=[fx(320), fx(800)], anchor="y5", range=[(320 - 557.2) / .953, (800 - 557.2) / .953]),
    yaxis5=dict(hidden, domain=[fy(966), fy(746)], anchor="x5", range=[(902.6 - 966) / 54.6, (902.6 - 746) / 54.6]),
    xaxis6=dict(hidden, domain=[0, 1], anchor="y6", range=[0, W]),
    yaxis6=dict(hidden, domain=[0, 1], anchor="x6", range=[H, 0]),
    shapes=shapes, annotations=notes,
)
fig.write_html("out.html", config=dict(displayModeBar=False),
               post_script="document.body.style.margin='0';document.body.style.overflow='hidden';document.body.style.background='#f1f2f4';")
